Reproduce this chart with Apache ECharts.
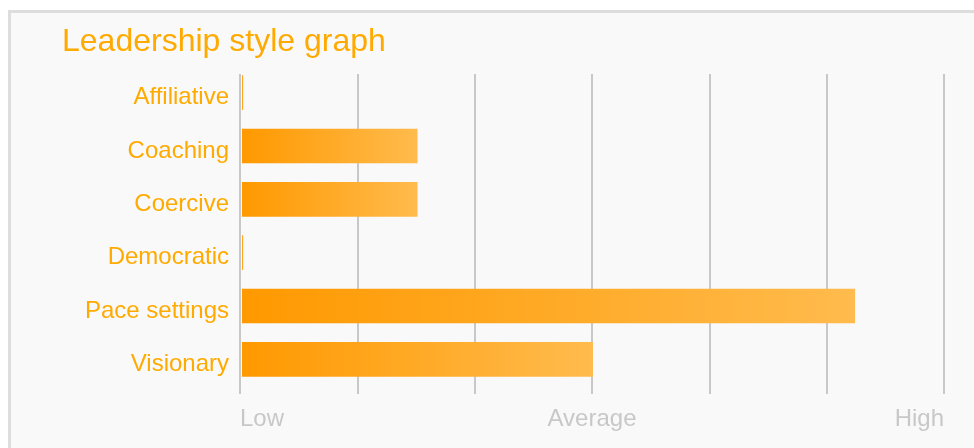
<!DOCTYPE html>
<html>
<head>
<meta charset="utf-8">
<script src="https://cdn.jsdelivr.net/npm/echarts@6/dist/echarts.min.js"></script>
<style>
  html, body { margin: 0; padding: 0; background: #fff; overflow: hidden; }
  #frame { position: absolute; left: 8px; top: 10px; width: 1100px; height: 600px;
           border: 3px solid #dddddd; background: #f9f9f9; }
  #chart { position: absolute; left: 0; top: 0; width: 974px; height: 448px; }
</style>
</head>
<body>
<div id="frame"></div>
<div id="chart"></div>
<script>
var styles = ['Affiliative', 'Coaching', 'Coercive', 'Democratic', 'Pace settings', 'Visionary'];
var scores = [0.01, 1.5, 1.5, 0.01, 5.24, 3];
var levelLabels = ['Low', '', '', 'Average', '', '', 'High'];

var font = 'Liberation Sans, Arial, sans-serif';
var orange = '#ffaa00';

var chart = echarts.init(document.getElementById('chart'));

var option = {
    backgroundColor: 'transparent',
    animation: false,
    title: {
        text: 'Leadership style graph',
        left: 62,
        top: 26,
        padding: 0,
        textStyle: { color: orange, fontSize: 32, fontWeight: 'normal', fontFamily: font }
    },
    grid: [
        // bars
        { left: 242, right: 30, top: 66, height: 320 },
        // vertical guide lines + level labels
        { left: 240, right: 30, top: 74, bottom: 54 }
    ],
    xAxis: [
        {
            gridIndex: 0, type: 'value', min: 0, max: 6, interval: 1,
            axisLine: { show: false }, axisTick: { show: false },
            axisLabel: { show: false }, splitLine: { show: false }
        },
        {
            gridIndex: 1, type: 'value', min: 0, max: 6, interval: 1,
            axisLine: { show: false }, axisTick: { show: false },
            splitLine: { show: true, lineStyle: { color: '#c8c8c8', width: 2 } },
            axisLabel: {
                color: '#c8c8c8', fontSize: 24, fontFamily: font, margin: 13,
                alignMinLabel: 'left', alignMaxLabel: 'right',
                formatter: function (v) { return levelLabels[Math.round(v)] || ''; }
            }
        }
    ],
    yAxis: [
        {
            gridIndex: 0, type: 'category', data: styles, inverse: true,
            axisLine: { show: false }, axisTick: { show: false },
            axisLabel: {
                margin: 13,
                formatter: function (v) { return '{s|' + v + '}'; },
                rich: {
                    s: { color: orange, fontSize: 24, fontFamily: font, padding: [10, 0, 0, 0] }
                }
            }
        },
        {
            gridIndex: 1, type: 'value', show: false
        }
    ],
    series: [{
        type: 'bar',
        xAxisIndex: 0,
        yAxisIndex: 0,
        data: scores,
        barCategoryGap: '35%',
        z: 5,
        itemStyle: {
            color: new echarts.graphic.LinearGradient(0, 0, 1, 0, [
                { offset: 0, color: '#ff9900' },
                { offset: 1, color: '#ffbb4d' }
            ])
        }
    }]
};

chart.setOption(option);
</script>
</body>
</html>
